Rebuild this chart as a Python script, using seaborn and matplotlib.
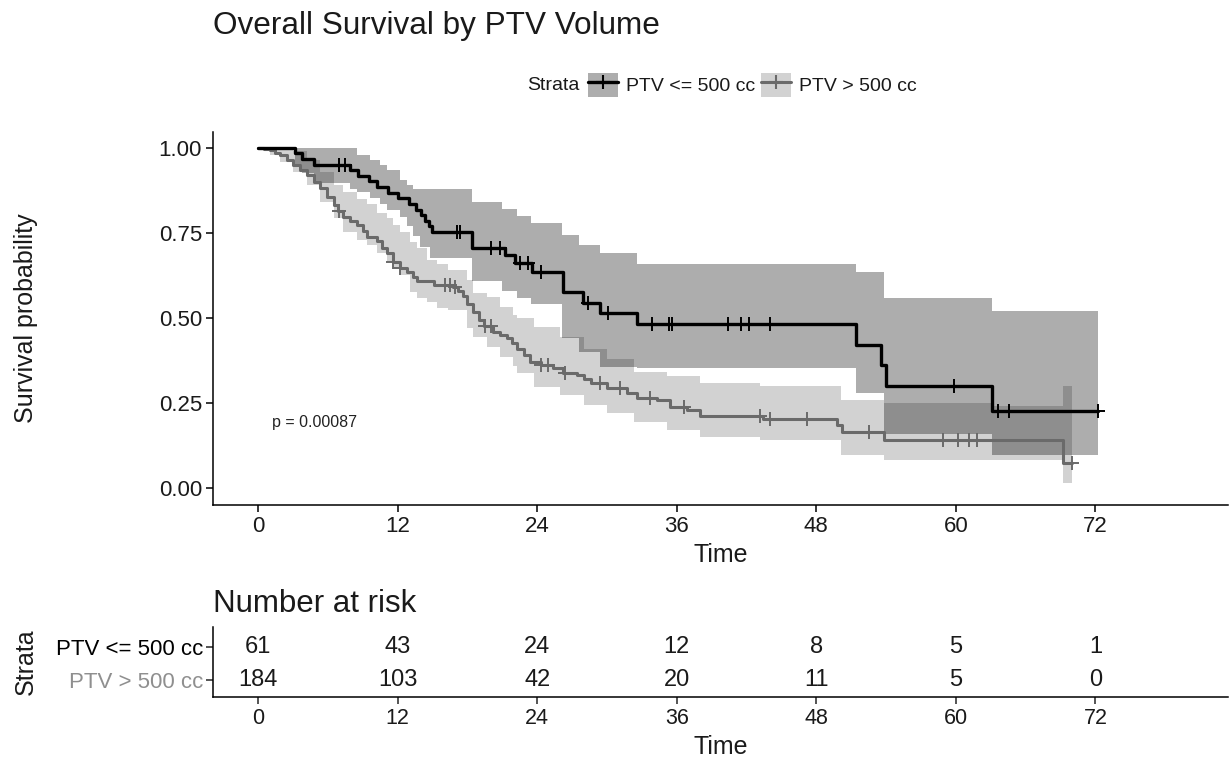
import numpy as np
import matplotlib
matplotlib.use("Agg")
import matplotlib.pyplot as plt
import seaborn as sns
from matplotlib.patches import Patch
from matplotlib.lines import Line2D

# ---------------- data ----------------
title = "Overall Survival by PTV Volume"
strata = ["PTV <= 500 cc", "PTV > 500 cc"]
p_text = "p = 0.00087"
time_ticks = [0, 12, 24, 36, 48, 60, 72]
surv_ticks = [0.00, 0.25, 0.50, 0.75, 1.00]
surv_tick_labels = ["0.00", "0.25", "0.50", "0.75", "1.00"]
risk_low = [61, 43, 24, 12, 8, 5, 1]
risk_high = [184, 103, 42, 20, 11, 5, 0]

# PTV <= 500 cc : KM steps
low_t = [0, 3.2, 3.8, 4.8, 7.9, 8.6, 9.5, 10.2, 11.2, 12.0, 13.0, 13.6, 14.0, 14.4,
         14.7, 15.0, 18.4, 21.2, 22.1, 23.6, 26.2, 27.9, 29.4, 32.6, 51.4, 53.6,
         54.0, 63.1, 72.2]
low_s = [1.0, 0.984, 0.967, 0.951, 0.934, 0.918, 0.902, 0.885, 0.869, 0.852, 0.836,
         0.819, 0.803, 0.786, 0.770, 0.753, 0.706, 0.685, 0.662, 0.635, 0.576, 0.545,
         0.515, 0.482, 0.420, 0.362, 0.300, 0.226, 0.226]
low_cens = [7.0, 7.5, 17.1, 17.4, 20.0, 20.8, 22.5, 23.2, 24.3, 28.4, 30.1, 33.9,
            35.3, 35.6, 40.4, 41.5, 42.2, 44.0, 59.8, 63.6, 64.6, 72.2]
low_ci_t = [0, 3.2, 3.8, 4.8, 7.9, 8.5, 9.6, 10.5, 11.1, 12.2, 12.8, 13.3, 13.9, 14.8,
            18.4, 21.0, 22.3, 23.5, 26.1, 27.6, 29.4, 32.6, 51.4, 53.8, 63.1, 72.2]
low_up = [1.0, 1.0, 1.0, 1.0, 1.0, 0.98, 0.965, 0.95, 0.935, 0.906, 0.89, 0.88, 0.88,
          0.88, 0.84, 0.82, 0.80, 0.78, 0.744, 0.715, 0.69, 0.66, 0.635, 0.56, 0.52, 0.52]
low_lo = [1.0, 0.95, 0.925, 0.897, 0.88, 0.87, 0.853, 0.835, 0.818, 0.797, 0.77, 0.74,
          0.71, 0.676, 0.61, 0.58, 0.56, 0.54, 0.44, 0.40, 0.356, 0.353, 0.28, 0.16,
          0.097, 0.097]

# PTV > 500 cc : KM steps
high_t = [0, 0.5, 1.0, 1.5, 1.9, 2.5, 3.0, 3.6, 4.2, 4.8, 5.3, 5.9, 6.5, 6.9, 7.3, 7.9,
          8.5, 9.0, 9.4, 10.2, 10.7, 11.1, 11.6, 12.2, 12.8, 13.3, 13.7, 15.1, 16.8,
          17.2, 17.6, 18.0, 18.5, 19.0, 19.4, 20.2, 20.8, 21.4, 21.8, 22.3, 22.9, 23.4,
          24.3, 25.4, 26.2, 27.4, 28.0, 28.6, 30.0, 31.7, 32.6, 34.3, 35.4, 36.9, 38.0,
          43.4, 49.8, 50.2, 53.8, 69.2, 70.0]
high_s = [1.0, 0.997, 0.994, 0.985, 0.979, 0.965, 0.95, 0.935, 0.92, 0.90, 0.882, 0.857,
          0.832, 0.815, 0.797, 0.785, 0.774, 0.755, 0.738, 0.725, 0.705, 0.691, 0.665,
          0.647, 0.635, 0.62, 0.609, 0.597, 0.591, 0.578, 0.565, 0.54, 0.518, 0.495,
          0.476, 0.459, 0.45, 0.441, 0.425, 0.409, 0.39, 0.371, 0.362, 0.353, 0.338,
          0.332, 0.32, 0.309, 0.294, 0.279, 0.265, 0.259, 0.238, 0.229, 0.212, 0.203,
          0.185, 0.165, 0.141, 0.074, 0.074]
high_cens = [7.0, 11.6, 12.2, 16.1, 16.5, 16.9, 19.5, 20.0, 24.3, 24.9, 26.4, 29.4,
             31.1, 33.7, 36.6, 43.2, 44.0, 47.2, 52.5, 58.9, 60.2, 61.1, 61.8, 70.0]
high_ci_t = [0, 1.0, 1.9, 3.0, 4.2, 5.3, 6.5, 7.3, 8.5, 9.4, 10.2, 11.1, 11.6, 12.2,
             13.1, 13.7, 14.5, 15.4, 16.3, 18.0, 18.5, 19.7, 20.8, 21.9, 22.3, 23.7,
             26.0, 28.0, 30.0, 32.3, 35.2, 38.0, 43.2, 50.1, 53.8, 63.1, 69.2, 70.0]
high_up = [1.0, 1.0, 1.0, 0.99, 0.965, 0.93, 0.89, 0.87, 0.85, 0.835, 0.81, 0.794,
           0.774, 0.753, 0.724, 0.706, 0.67, 0.66, 0.641, 0.612, 0.574, 0.562, 0.532,
           0.509, 0.50, 0.474, 0.444, 0.41, 0.38, 0.341, 0.33, 0.309, 0.30, 0.259, 0.25,
           0.24, 0.30, 0.30]
high_lo = [1.0, 0.98, 0.959, 0.929, 0.891, 0.841, 0.794, 0.753, 0.73, 0.715, 0.69,
           0.665, 0.645, 0.626, 0.576, 0.56, 0.547, 0.529, 0.524, 0.47, 0.444, 0.415,
           0.385, 0.36, 0.338, 0.297, 0.274, 0.244, 0.221, 0.194, 0.171, 0.15, 0.141,
           0.097, 0.082, 0.082, 0.015, 0.015]

# ---------------- style ----------------
sns.set_style("white")
plt.rcParams["font.family"] = ["Liberation Sans", "DejaVu Sans"]
plt.rcParams["axes.linewidth"] = 1.1

col_low = "#000000"
col_high = "#6a6a6a"
col_high_label = "#8f8f8f"
fill_low = "#000000"
fill_high = "#6a6a6a"
alpha_low = 0.32
alpha_high = 0.30
txt = "#1a1a1a"

W, H = 1232, 762
fig = plt.figure(figsize=(W / 100, H / 100), dpi=100)


def fx(px):
    return px / W


def fy(py):
    return 1 - py / H


def step_at(ts, ss, q):
    idx = np.searchsorted(np.asarray(ts), np.asarray(q), side="right") - 1
    return np.asarray(ss)[idx]


AX_L, AX_R = 213, 1228
label_x = -(AX_L - 38) / (AX_R - AX_L)

# ---------------- main survival panel ----------------
ax = fig.add_axes([fx(AX_L), fy(505), fx(AX_R) - fx(AX_L), fy(132) - fy(505)])
ax.fill_between(high_ci_t, high_lo, high_up, step="post", color=fill_high,
                alpha=alpha_high, lw=0)
ax.fill_between(low_ci_t, low_lo, low_up, step="post", color=fill_low,
                alpha=alpha_low, lw=0)

sns.lineplot(x=high_t, y=high_s, drawstyle="steps-post", color=col_high, lw=2.2,
             estimator=None, ax=ax)
sns.lineplot(x=low_t, y=low_s, drawstyle="steps-post", color=col_low, lw=2.4,
             estimator=None, ax=ax)
sns.scatterplot(x=high_cens, y=step_at(high_t, high_s, high_cens), marker="+", s=90,
                color=col_high, linewidth=1.4, ax=ax, zorder=4)
sns.scatterplot(x=low_cens, y=step_at(low_t, low_s, low_cens), marker="+", s=90,
                color=col_low, linewidth=1.4, ax=ax, zorder=5)

ax.set_xlim(-3.87, 83.4)
ax.set_ylim(-0.05, 1.047)
ax.set_xticks(time_ticks)
ax.set_yticks(surv_ticks)
ax.set_yticklabels(surv_tick_labels)
ax.tick_params(axis="both", labelsize=16, length=5, width=1.1, color="black",
               labelcolor=txt, pad=3, direction="out")
ax.tick_params(axis="both", which="both", bottom=True, left=True)
for s in ["top", "right"]:
    ax.spines[s].set_visible(False)
for s in ["left", "bottom"]:
    ax.spines[s].set_color("black")
ax.set_xlabel("Time", fontsize=18, color=txt, labelpad=4)
ax.set_ylabel("Survival probability", fontsize=18, color=txt)
ax.yaxis.set_label_coords(label_x, 0.5)
ax.text(1.2, 0.194, p_text, fontsize=11.5, ha="left", va="center", color="#222222")

# title
fig.text(fx(213), fy(26), title, fontsize=22.7, ha="left", va="center", color=txt)

# legend
fig.text(fx(527), fy(85), "Strata", fontsize=14, ha="left", va="center", color=txt)
handles = [
    (Patch(facecolor=fill_low, alpha=alpha_low, edgecolor="none"),
     Line2D([], [], color=col_low, lw=2.4, marker="+", ms=10, mew=1.5)),
    (Patch(facecolor=fill_high, alpha=alpha_high, edgecolor="none"),
     Line2D([], [], color=col_high, lw=2.2, marker="+", ms=10, mew=1.5)),
]
fig.legend(handles, strata, loc="center left", bbox_to_anchor=(fx(588), fy(85)),
           ncol=2, frameon=False, fontsize=14, handlelength=1.55, handleheight=1.55,
           handletextpad=0.4, columnspacing=0.3, borderpad=0, borderaxespad=0,
           labelcolor=txt)

# ---------------- risk table ----------------
fig.text(fx(213), fy(604), "Number at risk", fontsize=22.5, ha="left", va="center",
         color=txt)
ax2 = fig.add_axes([fx(AX_L), fy(697), fx(AX_R) - fx(AX_L), fy(627) - fy(697)])
sns.despine(ax=ax2)
ax2.set_xlim(-3.87, 83.4)
ax2.set_ylim(0.48, 2.6)
for t, n1, n2 in zip(time_ticks, risk_low, risk_high):
    ax2.text(t, 2, str(n1), ha="center", va="center", fontsize=17, color=txt)
    ax2.text(t, 1, str(n2), ha="center", va="center", fontsize=17, color=txt)
ax2.set_xticks(time_ticks)
ax2.set_yticks([2, 1])
ax2.set_yticklabels(strata)
for lab, c in zip(ax2.get_yticklabels(), [col_low, col_high_label]):
    lab.set_color(c)
ax2.tick_params(axis="x", labelsize=15.5, length=5, width=1.1, pad=3, labelcolor=txt)
ax2.tick_params(axis="y", labelsize=16, length=5, width=1.1, pad=2)
ax2.tick_params(axis="both", which="both", bottom=True, left=True)
for s in ["left", "bottom"]:
    ax2.spines[s].set_color("black")
ax2.set_xlabel("Time", fontsize=18, color=txt, labelpad=4)
ax2.set_ylabel("Strata", fontsize=18, color=txt)
ax2.yaxis.set_label_coords(label_x, 0.5)

fig.savefig("out.png", dpi=100)
